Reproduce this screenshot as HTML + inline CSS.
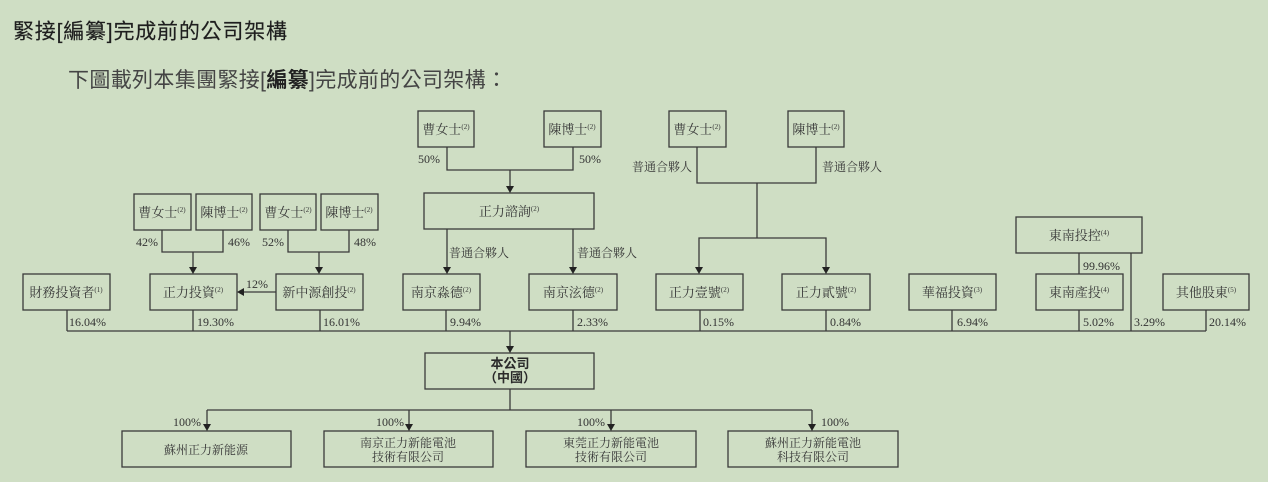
<!DOCTYPE html>
<html><head><meta charset="utf-8">
<style>
html,body{margin:0;padding:0;background:#cfdec4;}
svg{display:block;}
.sans{font-family:"Liberation Sans","Noto Sans CJK TC",sans-serif;}
.ser{font-family:"Liberation Serif","Noto Serif CJK SC",serif;fill:#383838;}
.pct{font-family:"Liberation Serif",serif;font-size:12px;fill:#333;}
.bx{fill:none;stroke:#3a3a3a;stroke-width:1.3;}
.ln{fill:none;stroke:#3a3a3a;stroke-width:1.3;}
.ar{fill:#222;}
</style></head>
<body>
<svg width="1268" height="482" viewBox="0 0 1268 482" xmlns="http://www.w3.org/2000/svg">
<rect width="1268" height="482" fill="#cfdec4"/>
<!-- titles -->
<text class="sans" x="13" y="38.5" font-size="21" fill="#1e1e1e" stroke="#1e1e1e" stroke-width="0.15" textLength="274" lengthAdjust="spacing">緊接[編纂]完成前的公司架構</text>
<text class="sans" x="68" y="87" font-size="21" fill="#444" textLength="439" lengthAdjust="spacing">下圖載列本集團緊接[<tspan font-weight="bold" fill="#222">編纂</tspan>]完成前的公司架構：</text>

<!-- boxes -->
<g class="bx">
<rect x="418" y="111" width="56" height="36"/>
<rect x="544" y="111" width="57" height="36"/>
<rect x="669" y="111" width="57" height="36"/>
<rect x="788" y="111" width="56" height="36"/>
<rect x="424" y="193" width="170" height="36"/>
<rect x="134" y="194" width="57" height="36"/>
<rect x="196" y="194" width="56" height="36"/>
<rect x="260" y="194" width="56" height="36"/>
<rect x="321" y="194" width="57" height="36"/>
<rect x="1016" y="217" width="126" height="36"/>
<rect x="23" y="274" width="87" height="36"/>
<rect x="150" y="274" width="87" height="36"/>
<rect x="276" y="274" width="87" height="36"/>
<rect x="403" y="274" width="77" height="36"/>
<rect x="529" y="274" width="88" height="36"/>
<rect x="656" y="274" width="87" height="36"/>
<rect x="782" y="274" width="88" height="36"/>
<rect x="909" y="274" width="87" height="36"/>
<rect x="1036" y="274" width="87" height="36"/>
<rect x="1163" y="274" width="86" height="36"/>
<rect x="425" y="353" width="169" height="36"/>
<rect x="122" y="431" width="169" height="36"/>
<rect x="324" y="431" width="169" height="36"/>
<rect x="526" y="431" width="170" height="36"/>
<rect x="728" y="431" width="170" height="36"/>
</g>

<!-- lines -->
<g class="ln">
<polyline points="447,147 447,170 573,170 573,147"/>
<line x1="510" y1="170" x2="510" y2="187"/>
<line x1="447" y1="229" x2="447" y2="268"/>
<line x1="573" y1="229" x2="573" y2="268"/>
<polyline points="697,147 697,183 816,183 816,147"/>
<line x1="757" y1="183" x2="757" y2="238"/>
<polyline points="699,268 699,238 826,238 826,268"/>
<polyline points="162,230 162,252 223,252 223,230"/>
<line x1="193" y1="252" x2="193" y2="268"/>
<polyline points="288,230 288,252 349,252 349,230"/>
<line x1="319" y1="252" x2="319" y2="268"/>
<line x1="276" y1="292" x2="243" y2="292"/>
<line x1="1079" y1="253" x2="1079" y2="274"/>
<line x1="1131" y1="253" x2="1131" y2="331"/>
<line x1="67" y1="310" x2="67" y2="331"/>
<line x1="193" y1="310" x2="193" y2="331"/>
<line x1="320" y1="310" x2="320" y2="331"/>
<line x1="446" y1="310" x2="446" y2="331"/>
<line x1="573" y1="310" x2="573" y2="331"/>
<line x1="700" y1="310" x2="700" y2="331"/>
<line x1="826" y1="310" x2="826" y2="331"/>
<line x1="952" y1="310" x2="952" y2="331"/>
<line x1="1079" y1="310" x2="1079" y2="331"/>
<line x1="1206" y1="310" x2="1206" y2="331"/>
<line x1="67" y1="331" x2="1206" y2="331"/>
<line x1="510" y1="331" x2="510" y2="347"/>
<line x1="510" y1="389" x2="510" y2="410"/>
<line x1="207" y1="410" x2="812" y2="410"/>
<line x1="207" y1="410" x2="207" y2="425"/>
<line x1="409" y1="410" x2="409" y2="425"/>
<line x1="611" y1="410" x2="611" y2="425"/>
<line x1="812" y1="410" x2="812" y2="425"/>
</g>

<!-- arrowheads -->
<g class="ar">
<polygon points="506,186 514,186 510,193"/>
<polygon points="443,267 451,267 447,274"/>
<polygon points="569,267 577,267 573,274"/>
<polygon points="695,267 703,267 699,274"/>
<polygon points="822,267 830,267 826,274"/>
<polygon points="189,267 197,267 193,274"/>
<polygon points="315,267 323,267 319,274"/>
<polygon points="237,292 244,288 244,296"/>
<polygon points="506,346 514,346 510,353"/>
<polygon points="203,424 211,424 207,431"/>
<polygon points="405,424 413,424 409,431"/>
<polygon points="607,424 615,424 611,431"/>
<polygon points="808,424 816,424 812,431"/>
</g>

<!-- box labels -->
<g class="ser" font-size="13" text-anchor="middle">
<text x="446" y="134">曹女士<tspan font-size="7" dy="-5">(2)</tspan></text>
<text x="572" y="134">陳博士<tspan font-size="7" dy="-5">(2)</tspan></text>
<text x="697" y="134">曹女士<tspan font-size="7" dy="-5">(2)</tspan></text>
<text x="816" y="134">陳博士<tspan font-size="7" dy="-5">(2)</tspan></text>
<text x="509" y="216">正力諮詢<tspan font-size="7" dy="-5">(2)</tspan></text>
<text x="162" y="217">曹女士<tspan font-size="7" dy="-5">(2)</tspan></text>
<text x="224" y="217">陳博士<tspan font-size="7" dy="-5">(2)</tspan></text>
<text x="288" y="217">曹女士<tspan font-size="7" dy="-5">(2)</tspan></text>
<text x="349" y="217">陳博士<tspan font-size="7" dy="-5">(2)</tspan></text>
<text x="1079" y="240">東南投控<tspan font-size="7" dy="-5">(4)</tspan></text>
<text x="66" y="297">財務投資者<tspan font-size="7" dy="-5">(1)</tspan></text>
<text x="193" y="297">正力投資<tspan font-size="7" dy="-5">(2)</tspan></text>
<text x="319" y="297">新中源創投<tspan font-size="7" dy="-5">(2)</tspan></text>
<text x="441" y="297">南京淼德<tspan font-size="7" dy="-5">(2)</tspan></text>
<text x="573" y="297">南京泫德<tspan font-size="7" dy="-5">(2)</tspan></text>
<text x="699" y="297">正力壹號<tspan font-size="7" dy="-5">(2)</tspan></text>
<text x="826" y="297">正力貳號<tspan font-size="7" dy="-5">(2)</tspan></text>
<text x="952" y="297">華福投資<tspan font-size="7" dy="-5">(3)</tspan></text>
<text x="1079" y="297">東南產投<tspan font-size="7" dy="-5">(4)</tspan></text>
<text x="1206" y="297">其他股東<tspan font-size="7" dy="-5">(5)</tspan></text>
</g>
<g class="ser" font-size="12" text-anchor="middle">
<text x="206" y="454">蘇州正力新能源</text>
<text x="408" y="447">南京正力新能電池</text>
<text x="408" y="461">技術有限公司</text>
<text x="611" y="447">東莞正力新能電池</text>
<text x="611" y="461">技術有限公司</text>
<text x="813" y="447">蘇州正力新能電池</text>
<text x="813" y="461">科技有限公司</text>
</g>
<g class="sans" font-size="13" font-weight="bold" fill="#2a2a2a" text-anchor="middle">
<text x="510" y="368">本公司</text>
<text x="510" y="382">（中國）</text>
</g>

<!-- partner labels -->
<g class="ser" font-size="12">
<text x="632" y="171">普通合夥人</text>
<text x="822" y="171">普通合夥人</text>
<text x="449" y="257">普通合夥人</text>
<text x="577" y="257">普通合夥人</text>
</g>

<!-- percentages -->
<g class="pct">
<text x="418" y="163">50%</text>
<text x="579" y="163">50%</text>
<text x="136" y="246">42%</text>
<text x="228" y="246">46%</text>
<text x="262" y="246">52%</text>
<text x="354" y="246">48%</text>
<text x="246" y="288">12%</text>
<text x="1083" y="270">99.96%</text>
<text x="69" y="326">16.04%</text>
<text x="197" y="326">19.30%</text>
<text x="323" y="326">16.01%</text>
<text x="450" y="326">9.94%</text>
<text x="577" y="326">2.33%</text>
<text x="703" y="326">0.15%</text>
<text x="830" y="326">0.84%</text>
<text x="957" y="326">6.94%</text>
<text x="1083" y="326">5.02%</text>
<text x="1134" y="326">3.29%</text>
<text x="1209" y="326">20.14%</text>
<text x="173" y="426">100%</text>
<text x="376" y="426">100%</text>
<text x="577" y="426">100%</text>
<text x="821" y="426">100%</text>
</g>
</svg>
</body></html>
